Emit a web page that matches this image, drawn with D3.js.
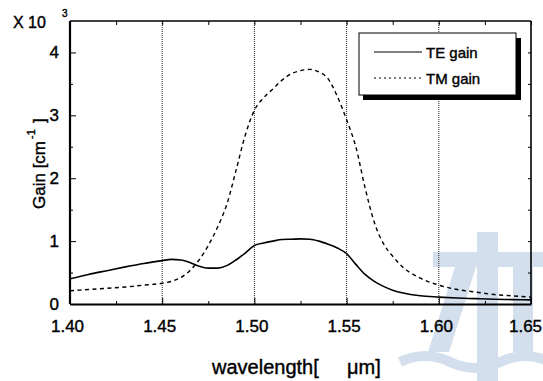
<!DOCTYPE html>
<html>
<head>
<meta charset="utf-8">
<script src="https://cdn.jsdelivr.net/npm/d3@7"></script>
<style>
  body { margin: 0; background: #fff; }
  svg { display: block; }
  text { font-family: "Liberation Sans", Arial, Helvetica, sans-serif; fill: #000; stroke: #000; stroke-width: 0.4px; }
</style>
</head>
<body>
<svg id="chart" width="543" height="381"></svg>
<script>
// Wavelength samples (µm) and modal gain (×10³ cm⁻¹)
const wavelength = [1.400, 1.410, 1.420, 1.430, 1.440, 1.450, 1.455, 1.460, 1.465, 1.470,
                    1.475, 1.480, 1.485, 1.490, 1.495, 1.500, 1.505, 1.510, 1.515, 1.520,
                    1.525, 1.530, 1.535, 1.540, 1.545, 1.550, 1.555, 1.560, 1.565, 1.570,
                    1.575, 1.580, 1.590, 1.600, 1.610, 1.620, 1.630, 1.640, 1.650];
const teGain = [0.40, 0.47, 0.53, 0.59, 0.645, 0.69, 0.71, 0.70, 0.66, 0.60,
                0.57, 0.57, 0.61, 0.70, 0.81, 0.93, 0.97, 1.00, 1.025, 1.03,
                1.035, 1.03, 1.00, 0.95, 0.89, 0.80, 0.63, 0.47, 0.36, 0.28,
                0.22, 0.18, 0.13, 0.11, 0.095, 0.085, 0.075, 0.07, 0.065];
const tmGain = [0.21, 0.23, 0.25, 0.27, 0.30, 0.33, 0.36, 0.42, 0.53, 0.70,
                0.93, 1.22, 1.58, 2.12, 2.68, 3.08, 3.28, 3.42, 3.56, 3.66,
                3.71, 3.73, 3.69, 3.58, 3.30, 2.93, 2.50, 1.85, 1.30, 0.96,
                0.76, 0.60, 0.41, 0.30, 0.23, 0.19, 0.15, 0.13, 0.11];
const seriesNames = ["TE gain", "TM gain"];
const xTicks = [1.40, 1.45, 1.50, 1.55, 1.60, 1.65];
const xMinorTicks = [1.425, 1.475, 1.525, 1.575, 1.625];
const yTicks = [0, 1, 2, 3, 4];
const yMinorTicks = [0.5, 1.5, 2.5, 3.5];
const gridWavelengths = [1.45, 1.50, 1.55, 1.60];

const svg = d3.select("#chart");
const x = d3.scaleLinear().domain([1.40, 1.65]).range([70, 531]);
const y = d3.scaleLinear().domain([0, 4.5]).range([304, 21]);

// Faint emblem in the background
const emblem = svg.append("g").attr("fill", "#d3dfed");
emblem.append("rect").attr("x", 477).attr("y", 232).attr("width", 21).attr("height", 150);
emblem.append("rect").attr("x", 433).attr("y", 252).attr("width", 110).attr("height", 15);
emblem.append("path").attr("d", "M455,267 L476,267 L449,352 L428,352 Z");
emblem.append("rect").attr("x", 513).attr("y", 267).attr("width", 20).attr("height", 85);
emblem.append("path").attr("d", "M400,362 Q425,350 450,362 T500,362 T550,362")
  .attr("fill", "none").attr("stroke", "#d3dfed").attr("stroke-width", 10);

// Dotted vertical reference lines
svg.append("g").selectAll("line").data(gridWavelengths).join("line")
  .attr("x1", d => x(d)).attr("x2", d => x(d))
  .attr("y1", y(4.5)).attr("y2", y(0))
  .attr("stroke", "#222").attr("stroke-width", 1).attr("stroke-dasharray", "1,1");

// Frame
svg.append("line").attr("x1", x(1.40)).attr("x2", x(1.65)).attr("y1", y(4.5)).attr("y2", y(4.5))
  .attr("stroke", "#000").attr("stroke-width", 1.6);
svg.append("line").attr("x1", x(1.65)).attr("x2", x(1.65)).attr("y1", y(4.5)).attr("y2", y(0))
  .attr("stroke", "#000").attr("stroke-width", 1.6);

// Bottom axis: inward ticks
const xAxis = svg.append("g").attr("transform", `translate(0,${y(0)})`)
  .call(d3.axisBottom(x).tickValues(xTicks).tickFormat(d3.format(".2f"))
    .tickSizeInner(-6).tickSizeOuter(0).tickPadding(16));
xAxis.select(".domain").attr("stroke-width", 2.2);
xAxis.selectAll("text").attr("font-size", 17)
  .attr("dx", d => d === 1.65 ? -6 : -3);
svg.append("g").attr("transform", `translate(0,${y(0)})`)
  .call(d3.axisBottom(x).tickValues(xMinorTicks).tickFormat("").tickSizeInner(-3).tickSizeOuter(0))
  .select(".domain").remove();
// Top axis ticks
svg.append("g").attr("transform", `translate(0,${y(4.5)})`)
  .call(d3.axisTop(x).tickValues(xTicks.concat(xMinorTicks)).tickFormat("").tickSizeInner(-4).tickSizeOuter(0))
  .select(".domain").remove();

// Left axis
const yAxis = svg.append("g").attr("transform", `translate(${x(1.40)},0)`)
  .call(d3.axisLeft(y).tickValues(yTicks).tickFormat(d3.format("d"))
    .tickSizeInner(-6).tickSizeOuter(0).tickPadding(11));
yAxis.select(".domain").attr("stroke-width", 2.2)
  .attr("d", `M0,${y(0)}V${y(4.5)}`);
yAxis.selectAll("text").attr("font-size", 17);
svg.append("g").attr("transform", `translate(${x(1.40)},0)`)
  .call(d3.axisLeft(y).tickValues(yMinorTicks).tickFormat("").tickSizeInner(-3).tickSizeOuter(0))
  .select(".domain").remove();
// Right axis ticks
svg.append("g").attr("transform", `translate(${x(1.65)},0)`)
  .call(d3.axisRight(y).tickValues(yTicks.concat(yMinorTicks)).tickFormat("").tickSizeInner(-3).tickSizeOuter(0))
  .select(".domain").remove();

// Curves
const pts = vals => wavelength.map((w, i) => [w, vals[i]]);
const line = d3.line().x(d => x(d[0])).y(d => y(d[1])).curve(d3.curveMonotoneX);
svg.append("path").attr("d", line(pts(teGain)))
  .attr("fill", "none").attr("stroke", "#000").attr("stroke-width", 1.6);
svg.append("path").attr("d", line(pts(tmGain)))
  .attr("fill", "none").attr("stroke", "#000").attr("stroke-width", 1.4)
  .attr("stroke-dasharray", "4,3.5");

// Legend with drop shadow
const lg = svg.append("g");
lg.append("rect").attr("x", 363).attr("y", 38).attr("width", 158).attr("height", 62).attr("fill", "#000");
lg.append("rect").attr("x", 359).attr("y", 33).attr("width", 157).attr("height", 62)
  .attr("fill", "#fff").attr("stroke", "#000").attr("stroke-width", 1);
lg.append("line").attr("x1", 374).attr("x2", 422).attr("y1", 52).attr("y2", 52)
  .attr("stroke", "#000").attr("stroke-width", 1);
lg.append("line").attr("x1", 374).attr("x2", 422).attr("y1", 78).attr("y2", 78)
  .attr("stroke", "#000").attr("stroke-width", 1).attr("stroke-dasharray", "2,3");
lg.append("text").attr("x", 426).attr("y", 58).attr("font-size", 15).text(seriesNames[0]);
lg.append("text").attr("x", 426).attr("y", 84).attr("font-size", 15).text(seriesNames[1]);

// Scale multiplier
svg.append("text").attr("x", 13).attr("y", 28).attr("font-size", 16).text("X 10");
svg.append("text").attr("x", 62).attr("y", 17).attr("font-size", 10).text("3");

// Axis titles
svg.append("text").attr("transform", "translate(45,209) rotate(-90)")
  .attr("font-size", 17).text("Gain [cm");
svg.append("text").attr("transform", "translate(35,139) rotate(-90)")
  .attr("font-size", 11).text("-1");
svg.append("text").attr("transform", "translate(45,123) rotate(-90)")
  .attr("font-size", 17).text("]");
svg.append("text").attr("x", 212).attr("y", 374).attr("font-size", 20).text("wavelength[");
svg.append("text").attr("x", 347).attr("y", 374).attr("font-size", 20).text("μm]");
</script>
</body>
</html>
